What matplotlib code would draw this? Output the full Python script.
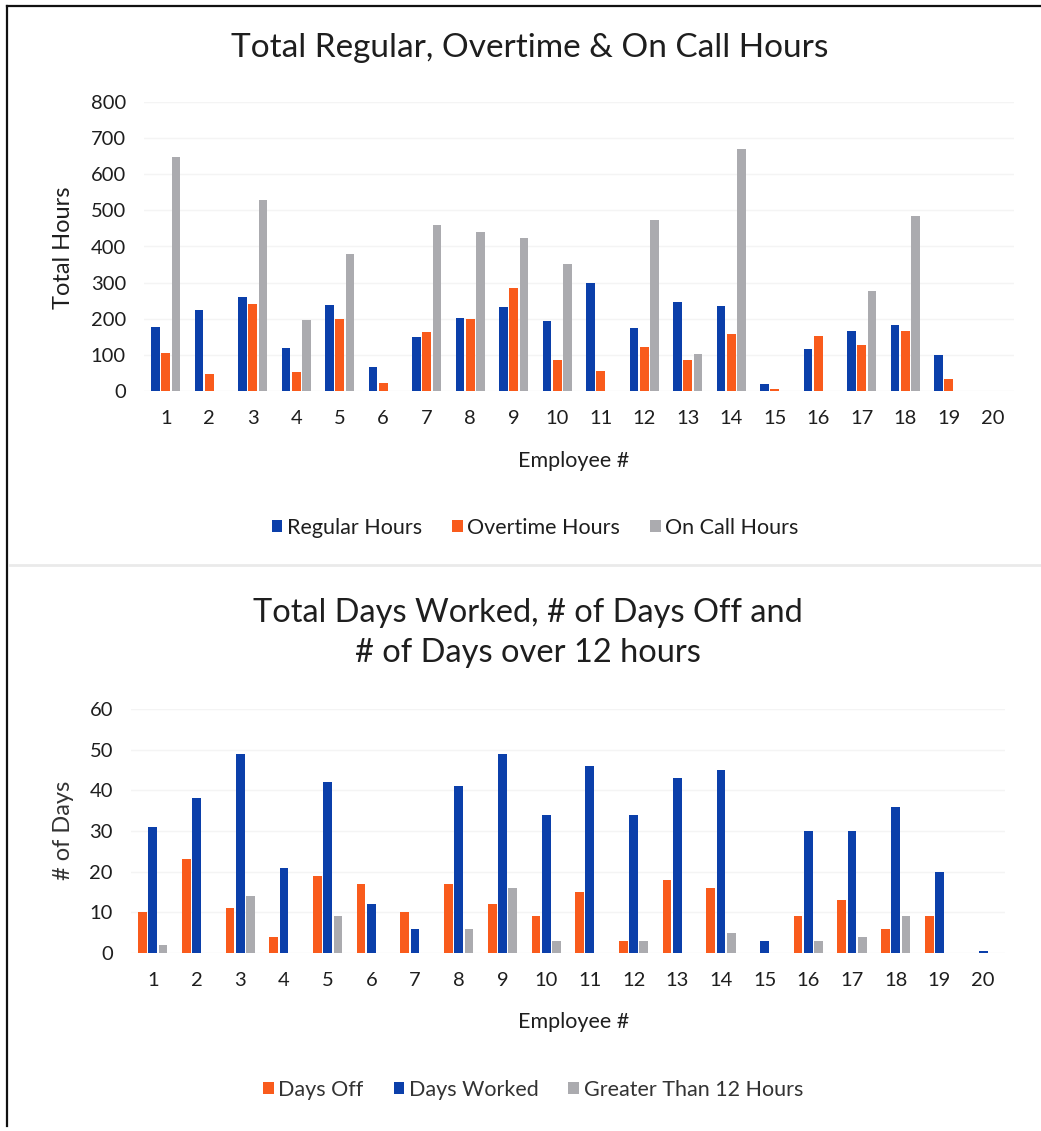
import matplotlib
matplotlib.use("Agg")
import matplotlib.pyplot as plt
from matplotlib.lines import Line2D
import numpy as np

plt.rcParams['font.family'] = ['Lato', 'DejaVu Sans']

# ---- data ----
employees = [str(i) for i in range(1, 21)]
regular_hours = [178, 224, 261, 119, 239, 66, 150, 203, 233, 194, 299, 175, 247, 234, 20, 115, 165, 183, 101, 0]
overtime_hours = [105, 46, 241, 52, 199, 23, 162, 199, 286, 85, 54, 123, 85, 157, 5, 151, 128, 166, 33, 0]
on_call_hours = [648, 0, 530, 197, 380, 0, 459, 441, 424, 352, 0, 473, 102, 670, 0, 0, 276, 485, 0, 0]

days_off = [10, 23, 11, 4, 19, 17, 10, 17, 12, 9, 15, 3, 18, 16, 0, 9, 13, 6, 9, 0]
days_worked = [31, 38, 49, 21, 42, 12, 6, 41, 49, 34, 46, 34, 43, 45, 3, 30, 30, 36, 20, 0.5]
over_12 = [2, 0, 14, 0, 9, 0, 0, 6, 16, 3, 0, 3, 0, 5, 0, 3, 4, 9, 0, 0]

title_top = "Total Regular, Overtime & On Call Hours"
title_bottom = "Total Days Worked, # of Days Off and\n# of Days over 12 hours"

BLUE = "#0B3FAA"
ORANGE = "#F95B1C"
GRAY = "#ABABAF"
TXT = "#1E1E1E"

W, H = 1041, 1131
fig = plt.figure(figsize=(W / 100, H / 100), dpi=100)

def fx(px):
    return px / W

def fy(py):
    return 1 - py / H

x = np.arange(len(employees))
bw = 0.2
off = 0.235

# ---- top chart ----
ax1 = fig.add_axes([fx(144), fy(391), fx(1014) - fx(144), fy(102) - fy(391)])
ax1.bar(x - off, regular_hours, bw, color=BLUE, label="Regular Hours")
ax1.bar(x, overtime_hours, bw, color=ORANGE, label="Overtime Hours")
ax1.bar(x + off, on_call_hours, bw, color=GRAY, label="On Call Hours")
ax1.set_ylim(0, 800)
ax1.set_yticks(range(0, 801, 100))
ax1.set_xlim(-0.5, len(employees) - 0.5)
ax1.set_xticks(x)
ax1.set_xticklabels(employees)

# ---- bottom chart ----
ax2 = fig.add_axes([fx(131), fy(953), fx(1005) - fx(131), fy(709) - fy(953)])
ax2.bar(x - off, days_off, bw, color=ORANGE, label="Days Off")
ax2.bar(x, days_worked, bw, color=BLUE, label="Days Worked")
ax2.bar(x + off, over_12, bw, color=GRAY, label="Greater Than 12 Hours")
ax2.set_ylim(0, 60)
ax2.set_yticks(range(0, 61, 10))
ax2.set_xlim(-0.5, len(employees) - 0.5)
ax2.set_xticks(x)
ax2.set_xticklabels(employees)

for ax in (ax1, ax2):
    for s in ax.spines.values():
        s.set_visible(False)
    ax.tick_params(length=0, labelsize=14.5, colors=TXT)
    ax.tick_params(axis='x', pad=14)
    ax.tick_params(axis='y', pad=13)
    ax.grid(axis='y', color="#F4F4F4", linewidth=1)
    ax.set_axisbelow(True)

# titles
fig.text(fx(530), fy(48), title_top, ha='center', va='center', fontsize=24, color=TXT)
fig.text(fx(528), fy(633), title_bottom, ha='center', va='center', fontsize=23.5, color=TXT,
         linespacing=1.4)

# axis labels
fig.text(fx(63), fy(248), "Total Hours", rotation=90, ha='center', va='center', fontsize=17, color=TXT)
fig.text(fx(574), fy(461), "Employee #", ha='center', va='center', fontsize=15.5, color=TXT)
fig.text(fx(63), fy(830), "# of Days", rotation=90, ha='center', va='center', fontsize=17, color="#333333")
fig.text(fx(574), fy(1022), "Employee #", ha='center', va='center', fontsize=15.5, color=TXT)

# legends
h1, l1 = ax1.get_legend_handles_labels()
fig.legend(h1, l1, loc='center', bbox_to_anchor=(fx(535), fy(528)), ncol=3, frameon=False,
           fontsize=15.5, handlelength=0.5, handleheight=0.5, handletextpad=0.2,
           columnspacing=1.4, labelcolor=TXT)
h2, l2 = ax2.get_legend_handles_labels()
fig.legend(h2, l2, loc='center', bbox_to_anchor=(fx(533), fy(1090)), ncol=3, frameon=False,
           fontsize=15.5, handlelength=0.5, handleheight=0.5, handletextpad=0.2,
           columnspacing=1.4, labelcolor="#333333")

# frame lines and separator
fig.add_artist(Line2D([fx(7), fx(7)], [fy(6), fy(1126)], color="#111111", linewidth=1.6))
fig.add_artist(Line2D([fx(7), fx(1041)], [fy(6), fy(6)], color="#111111", linewidth=1.6))
fig.add_artist(Line2D([fx(10), fx(1041)], [fy(565), fy(565)], color="#EAEAEA", linewidth=2))

fig.savefig("out.png", dpi=100, facecolor="white")
